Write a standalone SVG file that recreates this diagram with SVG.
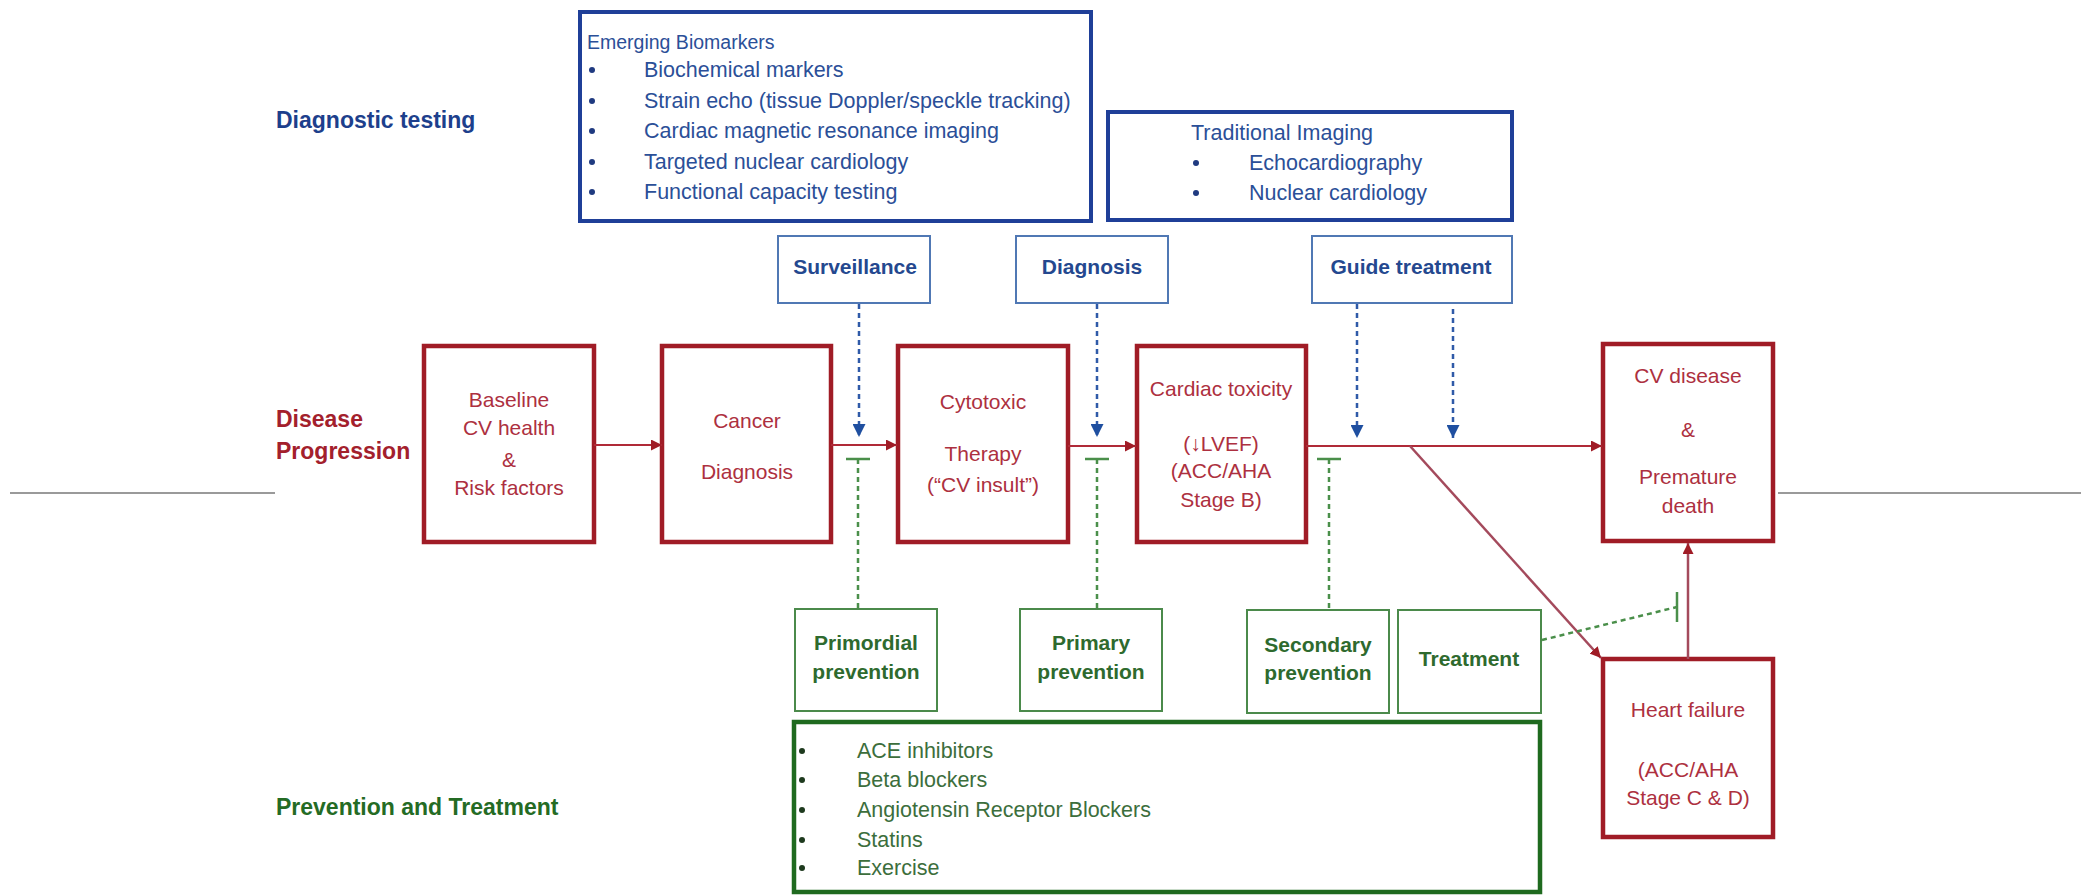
<svg xmlns="http://www.w3.org/2000/svg" width="2081" height="895" viewBox="0 0 2081 895">
  <style>
    .hdr { font-family: "Liberation Sans", Arial, sans-serif; font-weight: bold; font-size: 23px; }
    .hdr-blue { fill: #1d3f8c; }
    .hdr-red { fill: #a3202c; }
    .hdr-green { fill: #246b24; }
    .list-blue { font-family: "Liberation Sans", Arial, sans-serif; font-size: 21.5px; fill: #2b4f98; }
    .list-blue-head { font-family: "Liberation Sans", Arial, sans-serif; font-size: 19.5px; fill: #2b4f98; }
    .lbl-blue { font-family: "Liberation Sans", Arial, sans-serif; font-weight: bold; font-size: 21px; fill: #24488f; text-anchor: middle; }
    .lbl-red { font-family: "Liberation Sans", Arial, sans-serif; font-size: 21px; fill: #ad3040; text-anchor: middle; }
    .lbl-green { font-family: "Liberation Sans", Arial, sans-serif; font-weight: bold; font-size: 21px; fill: #2e6a2e; text-anchor: middle; }
    .list-green { font-family: "Liberation Sans", Arial, sans-serif; font-size: 21.5px; fill: #3c6e3c; }
    .dot-blue { fill: #1f3a80; }
    .dot-green { fill: #1e3a1e; }
    .box-blue-thick { fill: #fff; stroke: #1f3f98; stroke-width: 4; }
    .box-blue-thin { fill: #fff; stroke: #5078b4; stroke-width: 2; }
    .box-red { fill: #fff; stroke: #a01c26; stroke-width: 4.5; }
    .box-green-thin { fill: #fff; stroke: #4b8a4b; stroke-width: 2; }
    .box-green-thick { fill: #fff; stroke: #1f6a1f; stroke-width: 4.5; }
    .flow { stroke: #b02a38; stroke-width: 2; fill: none; }
    .flow-mauve { stroke: #a44a5c; stroke-width: 2.5; fill: none; }
    .dash-blue { stroke: #2f5aa8; stroke-width: 2.5; stroke-dasharray: 5 4; fill: none; }
    .dash-green { stroke: #4a8f4a; stroke-width: 2.5; stroke-dasharray: 5 4; fill: none; }
    .bar-green { stroke: #4a8f4a; stroke-width: 2.5; fill: none; }
    .rule { stroke: #9a9a9a; stroke-width: 2; }
  </style>
  <defs>
    <marker id="arrRed" viewBox="0 0 10 10" refX="10" refY="5" markerWidth="11" markerHeight="11" markerUnits="userSpaceOnUse" orient="auto">
      <path d="M0,0 L10,5 L0,10 z" fill="#a01c26"/>
    </marker>
    <marker id="arrBlue" viewBox="0 0 10 10" refX="10" refY="5" markerWidth="13" markerHeight="13" markerUnits="userSpaceOnUse" orient="auto">
      <path d="M0,0 L10,5 L0,10 z" fill="#1f4fa0"/>
    </marker>
  </defs>

  <rect width="2081" height="895" fill="#fff"/>

  <!-- side rules -->
  <line class="rule" x1="10" y1="493" x2="275" y2="493"/>
  <line class="rule" x1="1778" y1="493" x2="2081" y2="493"/>

  <!-- row headings -->
  <text class="hdr hdr-blue" x="276" y="128">Diagnostic testing</text>
  <text class="hdr hdr-red" x="276" y="427">Disease</text>
  <text class="hdr hdr-red" x="276" y="459">Progression</text>
  <text class="hdr hdr-green" x="276" y="815">Prevention and Treatment</text>

  <!-- diagnostic test panels -->
  <g id="emerging-biomarkers">
    <rect class="box-blue-thick" x="580" y="12" width="511" height="209"/>
    <text class="list-blue-head" x="587" y="49">Emerging Biomarkers</text>
    <g class="dot-blue">
      <circle cx="592" cy="70" r="3"/>
      <circle cx="592" cy="101" r="3"/>
      <circle cx="592" cy="131" r="3"/>
      <circle cx="592" cy="162" r="3"/>
      <circle cx="592" cy="192" r="3"/>
    </g>
    <g class="list-blue">
      <text x="644" y="77">Biochemical markers</text>
      <text x="644" y="108">Strain echo  (tissue Doppler/speckle tracking)</text>
      <text x="644" y="138">Cardiac magnetic resonance imaging</text>
      <text x="644" y="169">Targeted  nuclear cardiology</text>
      <text x="644" y="199">Functional capacity testing</text>
    </g>
  </g>
  <g id="traditional-imaging">
    <rect class="box-blue-thick" x="1108" y="112" width="404" height="108"/>
    <text class="list-blue" x="1191" y="140">Traditional Imaging</text>
    <g class="dot-blue">
      <circle cx="1196" cy="163" r="3"/>
      <circle cx="1196" cy="193" r="3"/>
    </g>
    <g class="list-blue">
      <text x="1249" y="170">Echocardiography</text>
      <text x="1249" y="200">Nuclear cardiology</text>
    </g>
  </g>

  <!-- test purposes -->
  <g id="surveillance">
    <rect class="box-blue-thin" x="778" y="236" width="152" height="67"/>
    <text class="lbl-blue" x="855" y="274">Surveillance</text>
  </g>
  <g id="diagnosis">
    <rect class="box-blue-thin" x="1016" y="236" width="152" height="67"/>
    <text class="lbl-blue" x="1092" y="274">Diagnosis</text>
  </g>
  <g id="guide-treatment">
    <rect class="box-blue-thin" x="1312" y="236" width="200" height="67"/>
    <text class="lbl-blue" x="1411" y="274">Guide treatment</text>
  </g>

  <!-- disease stages -->
  <g id="baseline">
    <rect class="box-red" x="424" y="346" width="170" height="196"/>
    <text class="lbl-red" x="509" y="407">Baseline</text>
    <text class="lbl-red" x="509" y="435">CV health</text>
    <text class="lbl-red" x="509" y="467">&amp;</text>
    <text class="lbl-red" x="509" y="495">Risk factors</text>
  </g>
  <g id="cancer-diagnosis">
    <rect class="box-red" x="662" y="346" width="169" height="196"/>
    <text class="lbl-red" x="747" y="428">Cancer</text>
    <text class="lbl-red" x="747" y="479">Diagnosis</text>
  </g>
  <g id="cytotoxic-therapy">
    <rect class="box-red" x="898" y="346" width="170" height="196"/>
    <text class="lbl-red" x="983" y="409">Cytotoxic</text>
    <text class="lbl-red" x="983" y="461">Therapy</text>
    <text class="lbl-red" x="983" y="492">(“CV insult”)</text>
  </g>
  <g id="cardiac-toxicity">
    <rect class="box-red" x="1137" y="346" width="169" height="196"/>
    <text class="lbl-red" x="1221" y="396">Cardiac toxicity</text>
    <text class="lbl-red" x="1221" y="451">(↓LVEF)</text>
    <text class="lbl-red" x="1221" y="478">(ACC/AHA</text>
    <text class="lbl-red" x="1221" y="507">Stage B)</text>
  </g>
  <g id="cv-disease">
    <rect class="box-red" x="1603" y="344" width="170" height="197"/>
    <text class="lbl-red" x="1688" y="383">CV disease</text>
    <text class="lbl-red" x="1688" y="437">&amp;</text>
    <text class="lbl-red" x="1688" y="484">Premature</text>
    <text class="lbl-red" x="1688" y="513">death</text>
  </g>
  <g id="heart-failure">
    <rect class="box-red" x="1603" y="659" width="170" height="178"/>
    <text class="lbl-red" x="1688" y="717">Heart failure</text>
    <text class="lbl-red" x="1688" y="777">(ACC/AHA</text>
    <text class="lbl-red" x="1688" y="805">Stage C &amp; D)</text>
  </g>

  <!-- prevention stages -->
  <g id="primordial-prevention">
    <rect class="box-green-thin" x="795" y="609" width="142" height="102"/>
    <text class="lbl-green" x="866" y="650">Primordial</text>
    <text class="lbl-green" x="866" y="679">prevention</text>
  </g>
  <g id="primary-prevention">
    <rect class="box-green-thin" x="1020" y="609" width="142" height="102"/>
    <text class="lbl-green" x="1091" y="650">Primary</text>
    <text class="lbl-green" x="1091" y="679">prevention</text>
  </g>
  <g id="secondary-prevention">
    <rect class="box-green-thin" x="1247" y="610" width="142" height="103"/>
    <text class="lbl-green" x="1318" y="652">Secondary</text>
    <text class="lbl-green" x="1318" y="680">prevention</text>
  </g>
  <g id="treatment">
    <rect class="box-green-thin" x="1398" y="610" width="143" height="103"/>
    <text class="lbl-green" x="1469" y="666">Treatment</text>
  </g>
  <g id="therapies">
    <rect class="box-green-thick" x="794" y="722" width="746" height="170"/>
    <g class="dot-green">
      <circle cx="802" cy="751" r="3"/>
      <circle cx="802" cy="780" r="3"/>
      <circle cx="802" cy="810" r="3"/>
      <circle cx="802" cy="840" r="3"/>
      <circle cx="802" cy="868" r="3"/>
    </g>
    <g class="list-green">
      <text x="857" y="758">ACE inhibitors</text>
      <text x="857" y="787">Beta blockers</text>
      <text x="857" y="817">Angiotensin Receptor Blockers</text>
      <text x="857" y="847">Statins</text>
      <text x="857" y="875">Exercise</text>
    </g>
  </g>

  <!-- connectors -->
  <g id="connectors">
    <!-- disease progression flow -->
    <line class="flow" x1="594" y1="445" x2="662" y2="445" marker-end="url(#arrRed)"/>
    <line class="flow" x1="831" y1="445" x2="897" y2="445" marker-end="url(#arrRed)"/>
    <line class="flow" x1="1068" y1="446" x2="1136" y2="446" marker-end="url(#arrRed)"/>
    <line class="flow" x1="1306" y1="446" x2="1602" y2="446" marker-end="url(#arrRed)"/>
    <line class="flow-mauve" x1="1410" y1="446" x2="1601" y2="658" marker-end="url(#arrRed)"/>
    <line class="flow-mauve" x1="1688" y1="659" x2="1688" y2="543" marker-end="url(#arrRed)"/>

    <!-- testing points -->
    <line class="dash-blue" x1="859" y1="304" x2="859" y2="437" marker-end="url(#arrBlue)"/>
    <line class="dash-blue" x1="1097" y1="304" x2="1097" y2="437" marker-end="url(#arrBlue)"/>
    <line class="dash-blue" x1="1357" y1="304" x2="1357" y2="438" marker-end="url(#arrBlue)"/>
    <line class="dash-blue" x1="1453" y1="309" x2="1453" y2="438" marker-end="url(#arrBlue)"/>

    <!-- prevention inhibitors -->
    <line class="dash-green" x1="858" y1="459" x2="858" y2="608"/>
    <line class="bar-green" x1="846" y1="459" x2="870" y2="459"/>
    <line class="dash-green" x1="1097" y1="459" x2="1097" y2="608"/>
    <line class="bar-green" x1="1085" y1="459" x2="1109" y2="459"/>
    <line class="dash-green" x1="1329" y1="459" x2="1329" y2="609"/>
    <line class="bar-green" x1="1317" y1="459" x2="1341" y2="459"/>
    <line class="dash-green" x1="1542" y1="640" x2="1677" y2="607"/>
    <line class="bar-green" x1="1677" y1="592" x2="1677" y2="622"/>
  </g>
</svg>
